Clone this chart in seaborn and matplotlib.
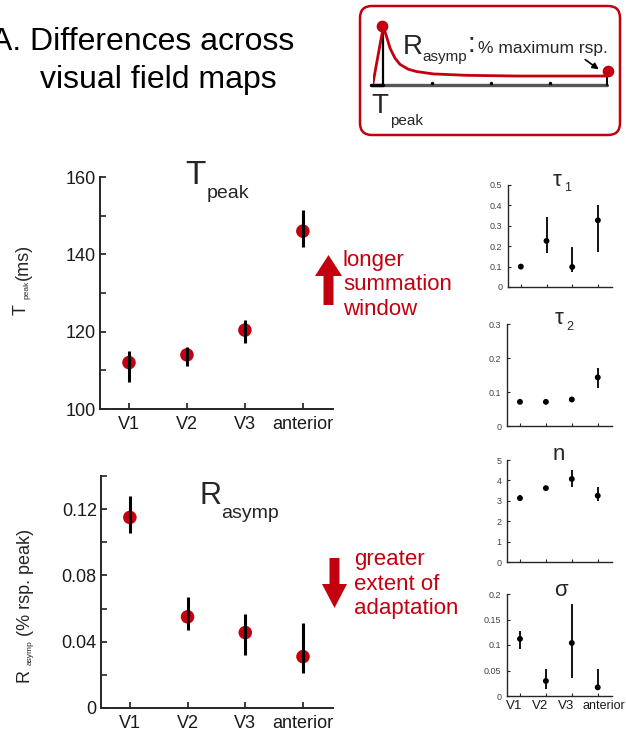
import numpy as np
import pandas as pd
import matplotlib
matplotlib.use("Agg")
import matplotlib.pyplot as plt
import matplotlib.transforms as mtransforms
import seaborn as sns
from matplotlib.patches import FancyBboxPatch, Polygon

# ---------------- data ----------------
categories = ["V1", "V2", "V3", "anterior"]

tpeak = [112.0, 114.0, 120.4, 146.0]
tpeak_lo = [107.0, 111.0, 117.0, 142.0]
tpeak_hi = [115.0, 116.0, 123.0, 151.5]

rasymp = [0.115, 0.055, 0.0455, 0.031]
rasymp_lo = [0.1055, 0.047, 0.032, 0.021]
rasymp_hi = [0.128, 0.067, 0.0565, 0.0515]

tau1 = [0.100, 0.226, 0.098, 0.327]
tau1_lo = [0.096, 0.169, 0.072, 0.174]
tau1_hi = [0.104, 0.345, 0.195, 0.400]

tau2 = [0.071, 0.071, 0.078, 0.143]
tau2_lo = [0.068, 0.068, 0.074, 0.111]
tau2_hi = [0.074, 0.074, 0.082, 0.170]

n_exp = [3.13, 3.62, 4.07, 3.25]
n_lo = [2.98, 3.53, 3.69, 3.01]
n_hi = [3.28, 3.70, 4.50, 3.66]

sigma = [0.112, 0.0295, 0.104, 0.017]
sigma_lo = [0.0925, 0.013, 0.035, 0.012]
sigma_hi = [0.128, 0.0525, 0.181, 0.0525]

# schematic response curve
schem_t = [0.0, 4.4, 5.8, 7.3, 9.4, 11.5, 15.1, 18.7, 25.8, 40.0, 61.4, 99.9]
schem_r = [0.03, 1.0, 0.83, 0.63, 0.46, 0.355, 0.27, 0.23, 0.19, 0.166, 0.154, 0.154]

RED = "#c3000f"
W, H = 626, 732

sns.set_theme(style="ticks")
plt.rcParams["font.family"] = ["Liberation Sans", "DejaVu Sans"]
plt.rcParams["axes.linewidth"] = 1.4

fig = plt.figure(figsize=(W / 100, H / 100), dpi=100)


def box(l, t, r, b):
    return [l / W, 1 - b / H, (r - l) / W, (b - t) / H]


pos = np.arange(len(categories))


def panel(rect, vals, lo, hi, big):
    ax = fig.add_axes(rect)
    ax.patch.set_alpha(0)
    df = pd.DataFrame({"pos": pos, "val": vals, "lo": lo, "hi": hi})
    if big:
        sns.scatterplot(data=df, x="pos", y="val", ax=ax, color=RED, s=95,
                        edgecolor="none", legend=False, zorder=2)
        ax.vlines(df["pos"], df["lo"], df["hi"], color="black", lw=2.2, zorder=3)
    else:
        sns.scatterplot(data=df, x="pos", y="val", ax=ax, color="black", s=18,
                        edgecolor="none", legend=False, zorder=2)
        ax.vlines(df["pos"], df["lo"], df["hi"], color="black", lw=1.3, zorder=3)
    sns.despine(ax=ax)
    ax.set_xlabel("")
    ax.set_ylabel("")
    return ax


# ---------- main T_peak ----------
ax1 = panel(box(100, 177, 333, 409), tpeak, tpeak_lo, tpeak_hi, True)
ax1.set_xlim(-0.5, 3.52)
ax1.set_ylim(100, 160)
ax1.set_yticks([100, 120, 140, 160])
ax1.set_yticks([110, 130, 150], minor=True)
ax1.set_xticks(pos)
ax1.set_xticklabels(categories)

# ---------- main R_asymp ----------
ax2 = panel(box(101, 476, 333, 708), rasymp, rasymp_lo, rasymp_hi, True)
ax2.set_xlim(-0.5, 3.52)
ax2.set_ylim(0, 0.14)
ax2.set_yticks([0, 0.04, 0.08, 0.12])
ax2.set_yticklabels(["0", "0.04", "0.08", "0.12"])
ax2.set_yticks([0.02, 0.06, 0.10, 0.14], minor=True)
ax2.set_xticks(pos)
ax2.set_xticklabels(categories)

for ax in (ax1, ax2):
    ax.tick_params(axis="both", which="major", direction="in", length=4, width=1.2,
                   labelsize=13, colors="#1a1a1a")
    ax.tick_params(axis="both", which="minor", direction="in", length=4, width=1.2)
    ax.tick_params(axis="x", pad=5)
    ax.tick_params(axis="y", pad=3)

# ---------- small panels ----------
small = [
    (box(508, 185, 612, 287), tau1, tau1_lo, tau1_hi, (0, 0.5),
     [0, 0.1, 0.2, 0.3, 0.4, 0.5], ["0", "0.1", "0.2", "0.3", "0.4", "0.5"]),
    (box(507, 324, 612, 426), tau2, tau2_lo, tau2_hi, (0, 0.3),
     [0, 0.1, 0.2, 0.3], ["0", "0.1", "0.2", "0.3"]),
    (box(507, 460, 612, 562), n_exp, n_lo, n_hi, (0, 5),
     [0, 1, 2, 3, 4, 5], ["0", "1", "2", "3", "4", "5"]),
    (box(507, 594, 612, 696), sigma, sigma_lo, sigma_hi, (0, 0.2),
     [0, 0.05, 0.1, 0.15, 0.2], ["0", "0.05", "0.1", "0.15", "0.2"]),
]
small_axes = []
for i, (rect, v, lo, hi, ylim, yt, ytl) in enumerate(small):
    ax = panel(rect, v, lo, hi, False)
    for s in ax.spines.values():
        s.set_linewidth(1.0)
    ax.set_xlim(-0.5, 3.55)
    ax.set_ylim(*ylim)
    ax.set_yticks(yt)
    ax.set_yticklabels(ytl)
    ax.set_xticks(pos)
    if i == 3:
        ax.set_xticklabels(categories)
    else:
        ax.set_xticklabels([])
    ax.tick_params(axis="y", direction="in", length=2.5, width=0.8, labelsize=6.5,
                   labelcolor="#444444", pad=4)
    ax.tick_params(axis="x", direction="in", length=2.5, width=0.8, labelsize=9.5,
                   labelcolor="#1a1a1a", pad=3)
    small_axes.append(ax)

# shift the bottom-right tick labels left like the reference
sax = small_axes[3]
for k, lab in enumerate(sax.get_xticklabels()):
    if k < 3:
        off = mtransforms.ScaledTranslation(-6 / 100, 0, fig.dpi_scale_trans)
    else:
        lab.set_horizontalalignment("left")
        lab.set_fontsize(9)
        off = mtransforms.ScaledTranslation(-15 / 100, 0, fig.dpi_scale_trans)
    lab.set_transform(lab.get_transform() + off)

# ---------- decoration overlay (pixel coordinates) ----------
deco = fig.add_axes([0, 0, 1, 1], zorder=10)
deco.set_xlim(0, W)
deco.set_ylim(H, 0)
deco.axis("off")
deco.patch.set_alpha(0)

# figure title
deco.text(-9, 50, "A. Differences across", ha="left", va="baseline", fontsize=23,
          color="black")
deco.text(40, 88, "visual field maps", ha="left", va="baseline", fontsize=23,
          color="black")

# panel titles
deco.text(195, 175, "T", ha="center", va="center", fontsize=24)
deco.text(228, 193, "peak", ha="center", va="center", fontsize=14)
deco.text(210, 496, "R", ha="center", va="center", fontsize=22)
deco.text(250, 514, "asymp", ha="center", va="center", fontsize=14)

# y labels
deco.text(21, 310, "T", ha="center", va="center", rotation=90, fontsize=13)
deco.text(27, 290, "peak", ha="center", va="center", rotation=90, fontsize=6)
deco.text(23, 262, "(ms)", ha="center", va="center", rotation=90, fontsize=13)
deco.text(24, 675, "R", ha="center", va="center", rotation=90, fontsize=13)
deco.text(30, 653, "asymp", ha="center", va="center", rotation=90, fontsize=6)
deco.text(25, 582, "(% rsp. peak)", ha="center", va="center", rotation=90, fontsize=13)

# small titles
deco.text(557, 180, "τ", ha="center", va="center", fontsize=16)
deco.text(568, 188, "1", ha="center", va="center", fontsize=9)
deco.text(559, 318, "τ", ha="center", va="center", fontsize=16)
deco.text(570, 327, "2", ha="center", va="center", fontsize=9)
deco.text(559, 455, "n", ha="center", va="center", fontsize=16)
deco.text(561, 591, "σ", ha="center", va="center", fontsize=16)

# red arrows and annotations
up = Polygon([(328.5, 255), (342, 276), (333.5, 276), (333.5, 305), (323.5, 305),
              (323.5, 276), (315, 276)], closed=True, color=RED, lw=0)
deco.add_patch(up)
down = Polygon([(334.5, 608), (347, 584), (339.5, 584), (339.5, 558), (329.5, 558),
                (329.5, 584), (322, 584)], closed=True, color=RED, lw=0)
deco.add_patch(down)
deco.text(343, 285, "longer\nsummation\nwindow", ha="left", va="center", fontsize=16,
          color=RED, linespacing=1.2)
deco.text(354, 584, "greater\nextent of\nadaptation", ha="left", va="center",
          fontsize=16, color=RED, linespacing=1.2)

# inset box
frame = FancyBboxPatch((360, 6), 260, 129, boxstyle="round,pad=0,rounding_size=12",
                       fc="white", ec=RED, lw=1.8)
deco.add_patch(frame)
deco.text(413, 47, "R", ha="center", va="center", fontsize=20)
deco.text(445, 57, "asymp", ha="center", va="center", fontsize=11)
deco.text(471, 45, ":", ha="center", va="center", fontsize=20)
deco.text(478, 48, "% maximum rsp.", ha="left", va="center", fontsize=12.5)
deco.text(380, 106, "T", ha="center", va="center", fontsize=20)
deco.text(407, 121, "peak", ha="center", va="center", fontsize=11)
deco.annotate("", xy=(601, 71), xytext=(583, 58),
              arrowprops=dict(arrowstyle="-|>", color="black", lw=1.2,
                              mutation_scale=9))

# inset schematic curve
ins = fig.add_axes(box(373, 26.7, 607, 85), zorder=11)
ins.patch.set_alpha(0)
ins.plot([-1, 100], [0, 0], color="#555555", lw=2.4, clip_on=False, zorder=1)
ins.plot([-1, 4.4], [0, 0], color="black", lw=2.4, clip_on=False, zorder=2)
ins.plot([4.4, 4.4], [0, 1.0], color="black", lw=1.6, clip_on=False, zorder=2)
ins.plot([100, 100], [0, 0.2], color="black", lw=1.4, clip_on=False, zorder=2)
ins.scatter([25.2, 50.4, 75.6], [0.04, 0.04, 0.04], s=2, color="black", zorder=3)
sns.lineplot(x=schem_t, y=schem_r, ax=ins, color=RED, lw=2.0, zorder=3)
ins.scatter([3.7, 100.5], [1.01, 0.24], s=55, color=RED, zorder=4, clip_on=False)
ins.set_xlim(0, 100)
ins.set_ylim(0, 1)
ins.axis("off")

fig.savefig("out.png", dpi=100)
